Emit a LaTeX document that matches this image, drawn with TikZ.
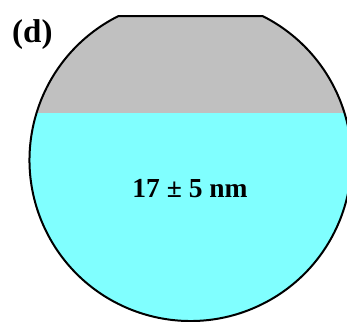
\documentclass[tikz,border=0pt]{standalone}
\usepackage{fontspec}
\setmainfont{Liberation Serif}
\definecolor{shellgray}{RGB}{192,192,192}
\definecolor{corecyan}{RGB}{128,255,255}
\tikzset{
  outline/.style={line width=2pt,color=black,line join=round},
  bigtext/.style={font=\bfseries\fontsize{27.5}{30}\selectfont,inner sep=0pt}
}
\begin{document}
\begin{tikzpicture}[x=1pt,y=1pt]
    \useasboundingbox (0,0) rectangle (347,-321);
    \clip (0,0) rectangle (347,-321);
    \coordinate (c) at (190.5,-160);
    \begin{scope}
        \clip (c) circle (161);
        \fill[color=shellgray] (0,-16) rectangle (347,-113);
        \fill[color=corecyan] (0,-113) rectangle (347,-330);
    \end{scope}
    \draw[outline] (c) ++(116.57:161) arc (116.57:423.43:161) -- cycle;
    \node[bigtext,anchor=base] (size) at (190,-197) {17 ± 5 nm};
    \node[font=\bfseries\fontsize{33}{36}\selectfont,inner sep=0pt,anchor=base west] (panel) at (12,-42) {(d)};
\end{tikzpicture}
\end{document}
